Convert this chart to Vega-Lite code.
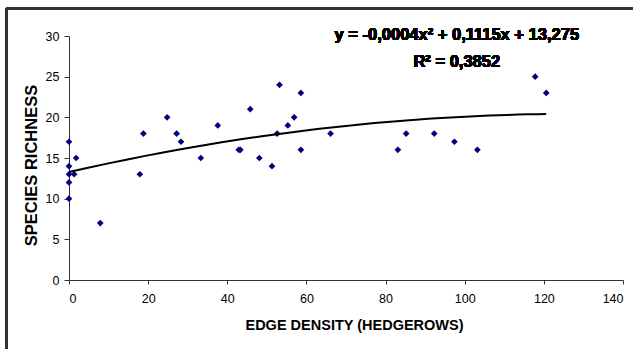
{
  "$schema": "https://vega.github.io/schema/vega-lite/v6.json",
  "autosize": {"type": "none"},
  "padding": {"left": 69, "top": 36, "right": 13, "bottom": 69},
  "width": 554,
  "height": 244,
  "background": "white",
  "config": {
    "view": {"stroke": null},
    "font": "Liberation Sans",
    "axis": {
      "grid": false,
      "domainColor": "#333333",
      "tickColor": "#333333",
      "tickSize": 5,
      "labelFont": "Liberation Sans",
      "labelFontSize": 12.5,
      "labelColor": "#000000",
      "titleFont": "Liberation Sans",
      "titleFontWeight": "bold",
      "titleColor": "#000000"
    }
  },
  "data": {
    "values": [
      {"density": 0, "richness": 17},
      {"density": 0, "richness": 14},
      {"density": 0, "richness": 13},
      {"density": 0, "richness": 12},
      {"density": 0, "richness": 10},
      {"density": 1.3, "richness": 13},
      {"density": 1.8, "richness": 15},
      {"density": 7.9, "richness": 7},
      {"density": 17.9, "richness": 13},
      {"density": 18.8, "richness": 18},
      {"density": 24.8, "richness": 20},
      {"density": 27.2, "richness": 18},
      {"density": 28.3, "richness": 17},
      {"density": 33.3, "richness": 15},
      {"density": 37.6, "richness": 19},
      {"density": 42.9, "richness": 16},
      {"density": 43.3, "richness": 16},
      {"density": 45.8, "richness": 21},
      {"density": 48.1, "richness": 15},
      {"density": 51.3, "richness": 14},
      {"density": 52.6, "richness": 18},
      {"density": 53.2, "richness": 24},
      {"density": 55.3, "richness": 19},
      {"density": 56.9, "richness": 20},
      {"density": 58.6, "richness": 23},
      {"density": 58.6, "richness": 16},
      {"density": 66.1, "richness": 18},
      {"density": 83.1, "richness": 16},
      {"density": 85.2, "richness": 18},
      {"density": 92.3, "richness": 18},
      {"density": 97.4, "richness": 17},
      {"density": 103.2, "richness": 16},
      {"density": 117.8, "richness": 25},
      {"density": 120.6, "richness": 23}
    ]
  },
  "layer": [
    {
      "mark": {"type": "rule", "color": "#333333", "strokeWidth": 2, "clip": false},
      "encoding": {
        "x": {"datum": -15.7, "type": "quantitative"},
        "y": {"datum": 33.4, "type": "quantitative"},
        "y2": {"datum": -9}
      }
    },
    {
      "mark": {"type": "rule", "color": "#333333", "strokeWidth": 2, "clip": false},
      "encoding": {
        "y": {"datum": 33.4, "type": "quantitative"},
        "x": {"datum": -15.7, "type": "quantitative"},
        "x2": {"datum": 142.5}
      }
    },
    {
      "mark": {"type": "point", "shape": "diamond", "filled": true, "color": "#000080", "size": 45, "opacity": 1},
      "encoding": {
        "x": {
          "field": "density",
          "type": "quantitative",
          "scale": {"domain": [0, 140], "nice": false, "zero": false},
          "axis": {"values": [0, 20, 40, 60, 80, 100, 120, 140], "title": "EDGE DENSITY (HEDGEROWS)", "titleFontSize": 14.5, "titlePadding": 14, "labelPadding": 8, "tickSize": 4, "titleX": 285}
        },
        "y": {
          "field": "richness",
          "type": "quantitative",
          "scale": {"domain": [0, 30], "nice": false},
          "axis": {"values": [0, 5, 10, 15, 20, 25, 30], "title": "SPECIES RICHNESS", "titleFontSize": 16.5, "titlePadding": 6, "labelPadding": 5, "titleY": 129}
        }
      }
    },
    {
      "transform": [
        {"regression": "richness", "on": "density", "method": "poly", "order": 2}
      ],
      "mark": {"type": "line", "color": "#000000", "strokeWidth": 2},
      "encoding": {
        "x": {"field": "density", "type": "quantitative"},
        "y": {"field": "richness", "type": "quantitative"}
      }
    },
    {
      "mark": {"type": "text", "fontWeight": "bold", "fontSize": 16.5, "align": "center", "baseline": "alphabetic", "color": "#000000", "clip": false},
      "encoding": {
        "x": {"datum": 98, "type": "quantitative"},
        "y": {"datum": 29.5, "type": "quantitative"},
        "text": {"value": "y = -0,0004x² + 0,1115x + 13,275"}
      }
    },
    {
      "mark": {"type": "text", "fontWeight": "bold", "fontSize": 16.5, "align": "center", "baseline": "alphabetic", "color": "#000000", "clip": false},
      "encoding": {
        "x": {"datum": 98, "type": "quantitative"},
        "y": {"datum": 26.2, "type": "quantitative"},
        "text": {"value": "R² = 0,3852"}
      }
    }
  ]
}
